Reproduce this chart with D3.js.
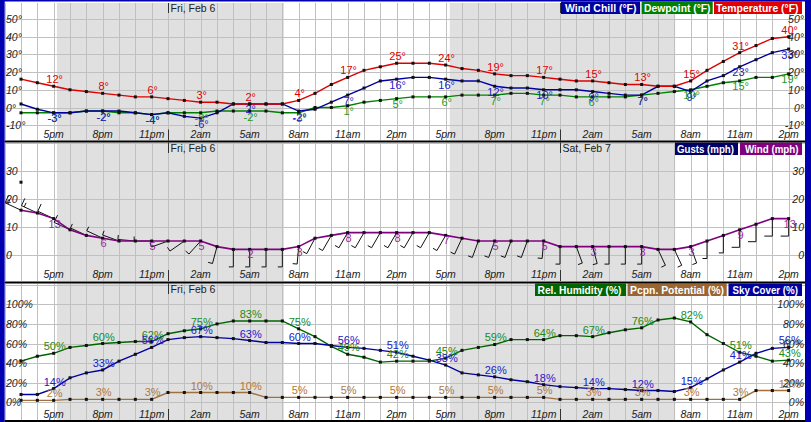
<!DOCTYPE html>
<html><head><meta charset="utf-8">
<script src="https://cdn.jsdelivr.net/npm/d3@7"></script>
<style>body{margin:0;background:#fff}svg{display:block}text{font-family:"Liberation Sans",Arial,sans-serif}</style>
</head><body><svg id="c" width="811" height="422"></svg>
<script>
// ---- data (hourly, 3pm Thu -> 2pm Sat) ----
const tickIndex = [2,5,8,11,14,17,20,23,26,29,32,35,38,41,44,47];
const tickLabels = ["5pm","8pm","11pm","2am","5am","8am","11am","2pm","5pm","8pm","11pm","2am","5am","8am","11am","2pm"];
const dayNames = ["Fri, Feb 6","Sat, Feb 7"];
const dayIndex = [9,33];
const nightStart = [2.2,26.25];
const nightEnd = [16.1,40.05];
const temperature = [16,14,12,10,9,8,7,6,6,5,4,3,3,2,2,2,2,4,8,13,17,21,23,25,25,25,24,22,21,19,18,18,17,16,15,15,14,13,13,12,12,15,21,26,31,35,39,40];
const dewpoint = [-3,-3,-3,-3,-2,-2,-3,-3,-4,-3,-3,-3,-2,-2,-2,-2,-3,-3,0,0,1,3,4,5,6,6,6,7,7,7,8,8,7,7,6,6,6,6,7,8,9,10,12,14,15,17,17,19];
const windChill = [2,-1,-3,-3,-2,-2,-2,-3,-4,-3,-5,-6,-3,2,2,2,2,-2,-1,3,7,11,15,16,17,17,16,15,15,12,11,11,10,10,10,9,8,7,7,12,12,9,15,18,23,27,31,33];
const windSpeed = [16,15,13,9,7,6,5,5,5,5,5,5,3,2,2,2,2,3,6,7,8,8,8,8,8,8,7,6,5,5,5,5,5,3,3,3,3,3,3,2,2,3,5,7,9,11,13,13];
const windDir = [295,295,295,295,295,295,290,275,270,250,235,222,195,180,180,180,180,185,208,210,210,210,210,210,210,210,210,205,200,200,200,200,185,180,160,165,180,180,180,155,155,160,180,180,180,180,180,180];
const gustIndex = [0];
const gustValues = [26];
const humidity = [42,47,50,56,58,60,61,62,62,70,73,75,80,83,83,83,83,75,67,57,49,46,41,42,42,42,45,53,56,59,64,64,64,68,68,67,71,74,76,84,86,82,69,60,51,47,42,43];
const pcpnPotential = [2,2,2,3,3,3,3,3,3,10,10,10,10,10,10,5,5,5,5,5,5,5,5,5,5,5,5,5,5,5,5,5,5,3,3,3,3,3,3,3,3,3,3,3,3,12,12,12];
const skyCover = [8,8,14,25,30,33,42,49,56,64,66,67,66,65,63,61,61,60,60,58,56,55,53,51,47,43,38,30,28,26,23,21,18,16,15,14,14,13,12,12,11,15,24,33,41,50,55,56];
const tempTicks = [-10,0,10,20,30,40,50];
const windTicks = [0,10,20,30];
const pctTicks = [0,20,40,60,80,100];

// ---- layout ----
const svg = d3.select("#c");
const X0 = 4.67, X1 = 805;
const x = d3.scaleLinear().domain([-1,48]).range([X0,X1]);
const hours = d3.range(48);
const labelIdx = d3.range(2,48,3);
const panels = [
  {top:3, bottom:140.5, y:d3.scaleLinear().domain([-10,50]).range([125.2,19]), ticks:tempTicks, fmt:d=>d+"°", xBase:138.3, dayBase:12, legendLeft:561},
  {top:142.5, bottom:281, y:d3.scaleLinear().domain([0,30]).range([255,171]), ticks:windTicks, fmt:d=>d, xBase:278.3, dayBase:152, legendLeft:675},
  {top:283.5, bottom:420, y:d3.scaleLinear().domain([0,100]).range([402.3,304.3]), ticks:pctTicks, fmt:d=>d+"%", xBase:417.8, dayBase:293, legendLeft:535}
];
const defs = svg.append("defs");
panels.forEach((p,k)=>{
  defs.append("clipPath").attr("id","cp"+k).append("rect").attr("x",X0).attr("y",p.top).attr("width",X1-X0).attr("height",p.bottom-p.top);
  const g = svg.append("g");
  p.g = g;
  g.append("rect").attr("x",X0).attr("y",p.top).attr("width",X1-X0).attr("height",p.bottom-p.top).attr("fill","#fff");
  nightStart.forEach((s,j)=>{
    g.append("rect").attr("x",x(s)).attr("y",p.top).attr("width",x(nightEnd[j])-x(s)).attr("height",p.bottom-p.top).attr("fill","#e0e0e0");
  });
  const gl = g.append("g").attr("clip-path","url(#cp"+k+")");
  d3.range(-1,49).forEach(i=>{
    const xx = Math.round(x(i))+0.5;
    gl.append("line").attr("x1",xx).attr("x2",xx).attr("y1",p.top).attr("y2",p.bottom).attr("stroke","#c0c0c0").attr("stroke-width",1);
  });
  const step = p.ticks[1]-p.ticks[0];
  d3.range(p.ticks[0]-2*step, p.ticks[p.ticks.length-1]+3*step, step).forEach(t=>{
    const yy = Math.round(p.y(t))+0.5;
    gl.append("line").attr("x1",X0).attr("x2",X1).attr("y1",yy).attr("y2",yy).attr("stroke","#c0c0c0").attr("stroke-width",1);
  });
  // day labels / midnight marks
  dayNames.forEach((n,j)=>{
    const dx = Math.round(x(dayIndex[j]))+0.5;
    g.append("line").attr("x1",dx).attr("x2",dx).attr("y1",p.top).attr("y2",p.dayBase+1).attr("stroke","#333");
    g.append("line").attr("x1",dx).attr("x2",dx).attr("y1",p.bottom-11).attr("y2",p.bottom).attr("stroke","#333");
    if (dx+2 < p.legendLeft - 40)
      g.append("text").attr("x",dx+2).attr("y",p.dayBase).attr("font-size","10.5px").attr("fill","#222").text(n);
  });
  p.data = g.append("g").attr("clip-path","url(#cp"+k+")");
  p.labels = g.append("g");
});

function series(p, vals, color, width){
  const line = d3.line().x((d,i)=>x(i)).y(d=>p.y(d));
  p.data.append("path").datum(vals).attr("d",line).attr("fill","none").attr("stroke",color).attr("stroke-width",width||1.4);
}
function markers(p, idx, vals){
  p.data.selectAll(null).data(idx).enter().append("rect")
   .attr("x",i=>x(i)-1.5).attr("y",(i,j)=>p.y(vals[j])-1.5).attr("width",3).attr("height",3).attr("fill","#111");
}
function labels(p, vals, color, dy, suffix){
  p.labels.selectAll(null).data(labelIdx).enter().append("text")
   .attr("x",i=>x(i)+1).attr("y",i=>p.y(vals[i])+dy).attr("text-anchor","middle")
   .attr("font-size","11px").attr("fill",color).text(i=>vals[i]+suffix);
}

// panel 1
const P1 = panels[0];
series(P1, dewpoint, "#008000");
series(P1, windChill, "#0000a0");
series(P1, temperature, "#dd0000");
[dewpoint, windChill, temperature].forEach(v=>markers(P1, hours, v));
labels(P1, temperature, "#e00000", -3, "°");
labels(P1, dewpoint, "#1a9a1a", 9.5, "°");
labels(P1, windChill, "#2020c8", 9.5, "°");

// panel 2 - wind barbs
const P2 = panels[1];
const barbs = P2.data.append("g").attr("stroke","#111").attr("stroke-width",1).attr("fill","none");
hours.forEach(i=>{
  const th = windDir[i]*Math.PI/180;
  const sx = Math.sin(th), sy = -Math.cos(th);
  const px = x(i), py = P2.y(windSpeed[i]);
  const L = 17.5;
  const ex = px+L*sx, ey = py+L*sy;
  barbs.append("line").attr("x1",px).attr("y1",py).attr("x2",ex).attr("y2",ey);
  const bx = -sy, by = sx;
  let n5 = Math.max(1, Math.round(windSpeed[i]*0.869/5));
  let pos = 0;
  while(n5>=2){ barbs.append("line").attr("x1",ex-pos*sx).attr("y1",ey-pos*sy).attr("x2",ex-pos*sx+8*bx).attr("y2",ey-pos*sy+8*by); n5-=2; pos+=3; }
  if(n5===1){ barbs.append("line").attr("x1",ex-pos*sx).attr("y1",ey-pos*sy).attr("x2",ex-pos*sx+4.5*bx).attr("y2",ey-pos*sy+4.5*by); }
});
series(P2, windSpeed, "#800080", 1.6);
markers(P2, hours, windSpeed);
markers(P2, gustIndex, gustValues);
labels(P2, windSpeed, "#9a2a9a", 9, "");

// panel 3
const P3 = panels[2];
series(P3, pcpnPotential, "#a0703c");
series(P3, humidity, "#006400");
series(P3, skyCover, "#0000a0");
[pcpnPotential, humidity, skyCover].forEach(v=>markers(P3, hours, v));
labels(P3, pcpnPotential, "#b07840", -3, "%");
labels(P3, humidity, "#1a8a1a", -3, "%");
labels(P3, skyCover, "#2020c8", -3, "%");

// axes text
panels.forEach(p=>{
  const ax = svg.append("g").attr("font-size","10.5px").attr("font-style","italic").attr("fill","#222");
  p.ticks.forEach(t=>{
    ax.append("text").attr("x",6).attr("y",p.y(t)+4).text(p.fmt(t));
    ax.append("text").attr("x",804).attr("y",p.y(t)+4).attr("text-anchor","end").text(p.fmt(t));
  });
  tickIndex.forEach((i,j)=>{
    ax.append("text").attr("x",x(i)).attr("y",p.xBase).attr("text-anchor","middle").text(tickLabels[j]);
  });
});

// legends: [boxLeft, boxRight, text, colour, textLeft, textWidth]
function legend(y0, items){
  items.forEach(it=>{
    svg.append("rect").attr("x",it[0]).attr("y",y0).attr("width",it[1]-it[0]).attr("height",12.5).attr("fill",it[3]);
    svg.append("text").attr("x",it[4]).attr("y",y0+10).attr("textLength",it[5]).attr("lengthAdjust","spacingAndGlyphs")
      .attr("font-size","10.5px").attr("font-weight","bold").attr("fill","#fff").text(it[2]);
  });
}
legend(1.5, [[561,640,"Wind Chill (°F)","#0000a0",565,71.5],[641.7,712.7,"Dewpoint (°F)","#008000",644,66.5],[714,802,"Temperature (°F)","#e00000",716,82.5]]);
legend(142.5, [[675,738,"Gusts (mph)","#000066",677,57],[740,802,"Wind (mph)","#800080",745,53.5]]);
legend(283.5, [[535,626,"Rel. Humidity (%)","#006600",537.5,84],[627.7,726.7,"Pcpn. Potential (%)","#996633",630,94],[728.5,802,"Sky Cover (%)","#0000a0",732.5,65.5]]);

// frame
svg.append("rect").attr("x",0).attr("y",0).attr("width",811).attr("height",1.5).attr("fill","#0000b0");
svg.append("rect").attr("x",0).attr("y",0).attr("width",4.67).attr("height",422).attr("fill","#0000b0");
svg.append("rect").attr("x",805).attr("y",0).attr("width",6).attr("height",422).attr("fill","#0000b0");
[140.5, 281.5].forEach(yy=>svg.append("rect").attr("x",4.67).attr("y",yy).attr("width",800.33).attr("height",2).attr("fill","#000"));
svg.append("rect").attr("x",4.67).attr("y",420).attr("width",800.33).attr("height",2).attr("fill","#000");
</script></body></html>
